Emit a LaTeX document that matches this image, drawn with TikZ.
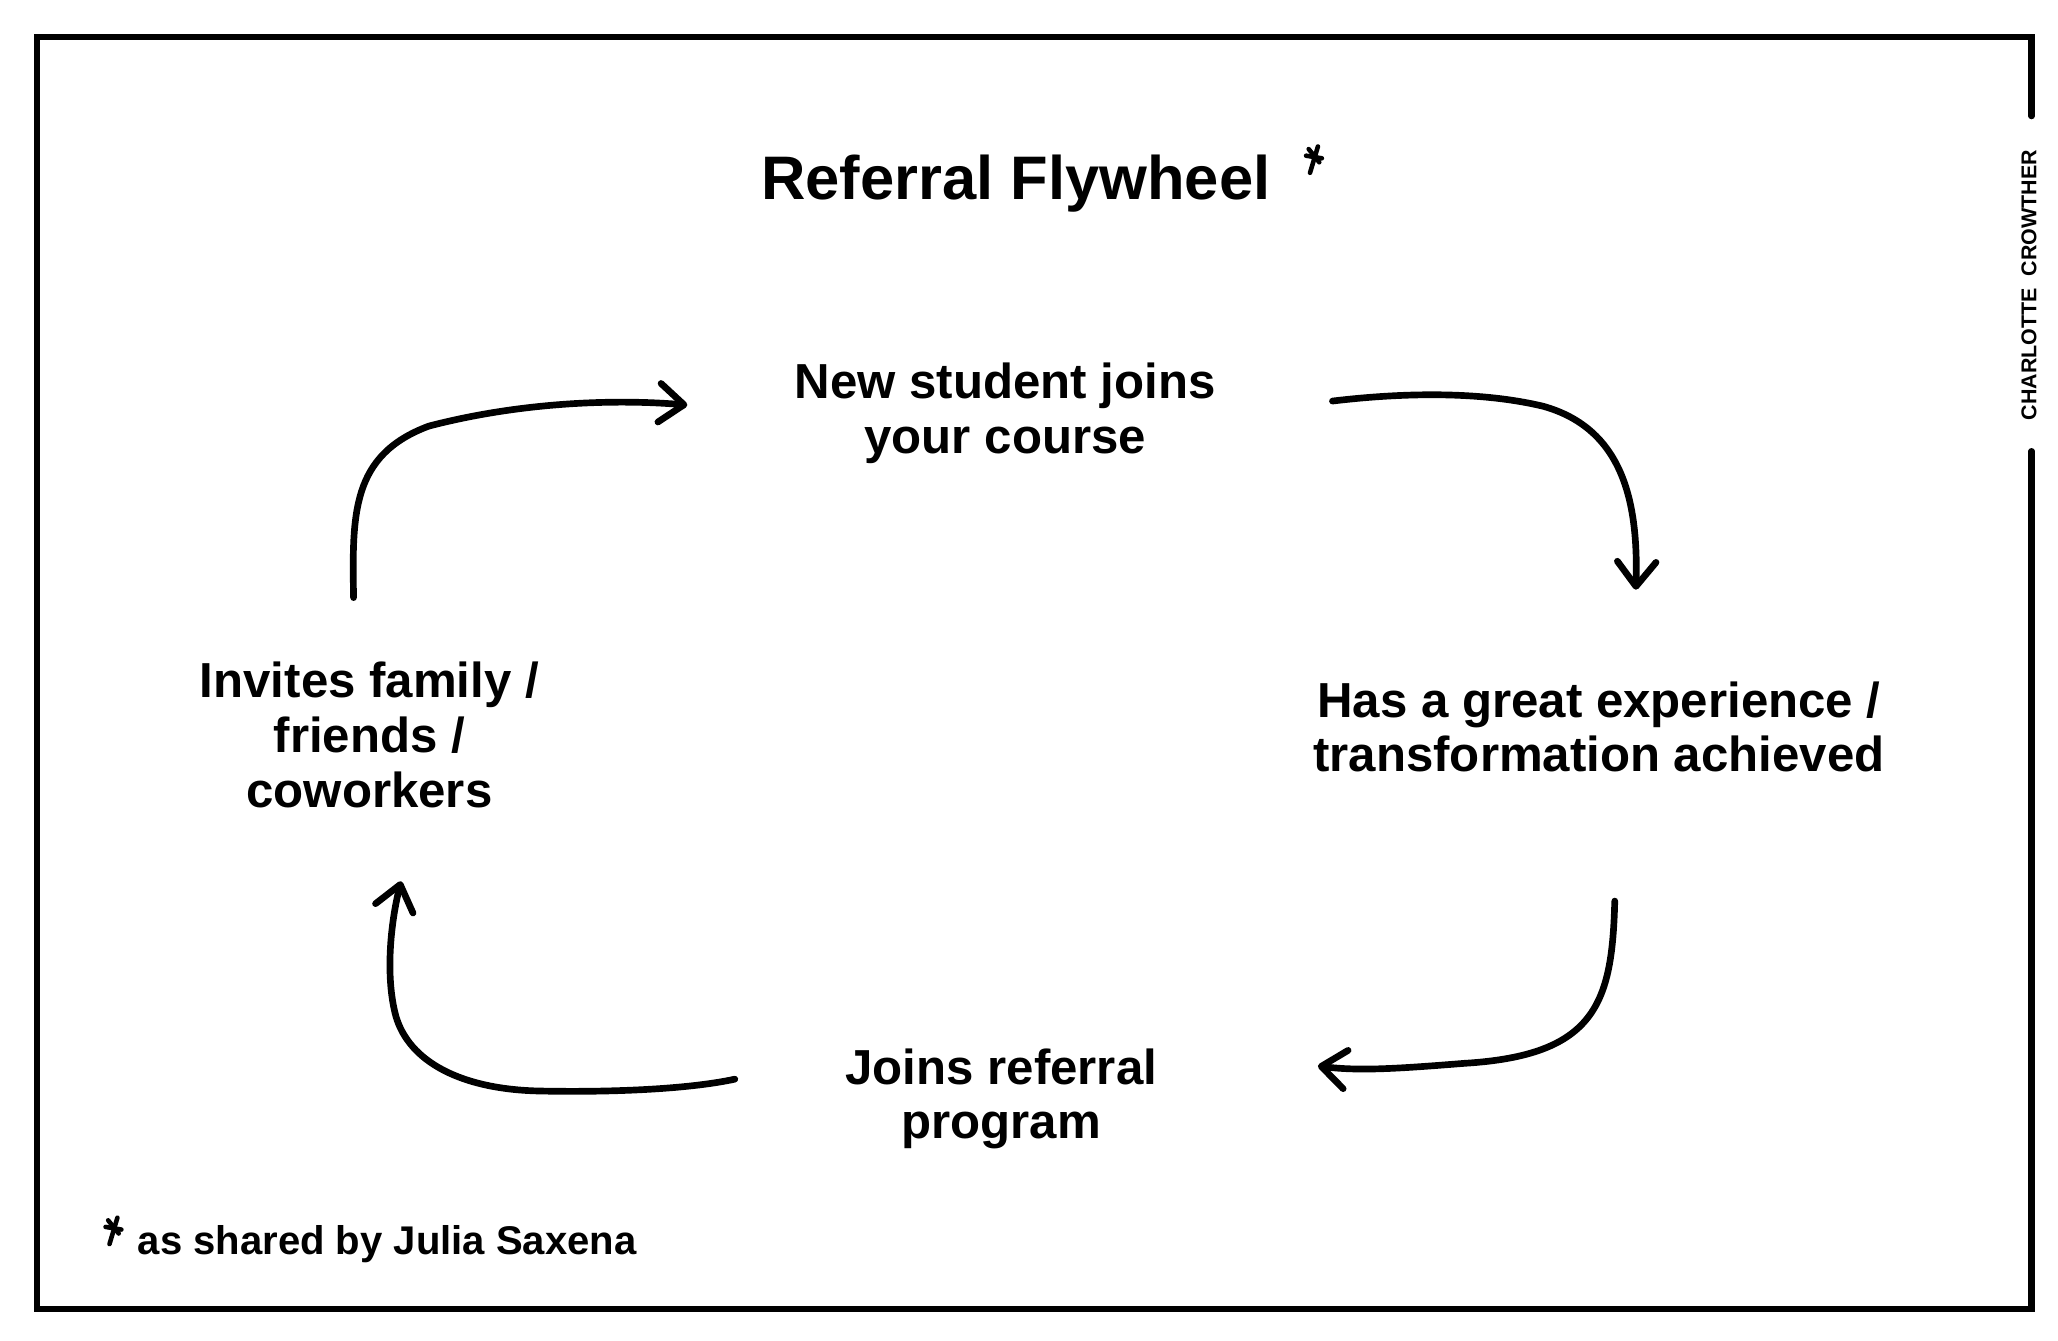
\documentclass[tikz,border=0pt]{standalone}
\usepackage{fontspec}
\setmainfont{Liberation Sans}
\usetikzlibrary{arrows.meta}
\begin{document}
\begin{tikzpicture}[x=0.013192cm,y=-0.013192cm,
  lbl/.style={font=\bfseries\fontsize{14}{15.6}\selectfont, align=center, inner sep=0pt},
  flow/.style={line width=1.9pt, line cap=round, line join=round, -{Straight Barb[length=7pt,width=11pt,round]}},
  frame/.style={line width=1.8pt, line cap=round},
  starline/.style={line width=1.3pt, line cap=round},
  hstar/.pic={
    \draw[starline] (-3,10) -- (3,-10);
    \draw[starline] (-6,-3) -- (6,-1);
    \draw[starline] (-4,-8) -- (4,2);
  }]
\useasboundingbox (0,0) rectangle (1560,1016);
% frame with gap on right side
\draw[frame] (1540,88) -- (1540,28) -- (28,28) -- (28,992) -- (1540,992) -- (1540,342);
\node[rotate=90, font=\bfseries\fontsize{6.1}{8}\selectfont, inner sep=0pt] (credit) at (1538,216) {CHARLOTTE\ \ CROWTHER};
% title
\node[font=\bfseries\fontsize{17.5}{20}\selectfont, inner sep=0pt] (title) at (770,139) {Referral Flywheel};
\pic at (996,121) {hstar};
% nodes
\node[lbl] (new) at (762,313) {New student joins\\your course};
\node[lbl] (exp) at (1212,551) {Has a great experience /\\transformation achieved};
\node[lbl] (ref) at (759,833) {Joins referral\\program};
\node[lbl] (inv) at (280,557) {Invites family /\\friends /\\coworkers};
% footnote
\pic at (86,933) {hstar};
\node[anchor=west, font=\bfseries\fontsize{11.4}{14}\selectfont, inner sep=0pt] (note) at (104,943) {as shared by Julia Saxena};
% connectors
\coordinate (a1s) at (268,453); \coordinate (a1e) at (521,307);
\coordinate (a2s) at (1010,304); \coordinate (a2e) at (1240,447);
\coordinate (a3s) at (1224,683); \coordinate (a3e) at (999,808);
\coordinate (a4s) at (557,818); \coordinate (a4e) at (304,668);
\draw[flow] (a1s) .. controls (267,390) and (266,345) .. (325,323) .. controls (390,306) and (460,302) .. (a1e);
\draw[flow] (a2s) .. controls (1060,298) and (1120,296) .. (1170,308) .. controls (1230,325) and (1242,380) .. (a2e);
\draw[flow] (a3s) .. controls (1222,760) and (1210,800) .. (1110,806) .. controls (1060,810) and (1030,812) .. (a3e);
\draw[flow] (a4s) .. controls (520,826) and (460,828) .. (410,827) .. controls (350,826) and (310,805) .. (300,770) .. controls (292,740) and (296,700) .. (a4e);
\end{tikzpicture}
\end{document}
